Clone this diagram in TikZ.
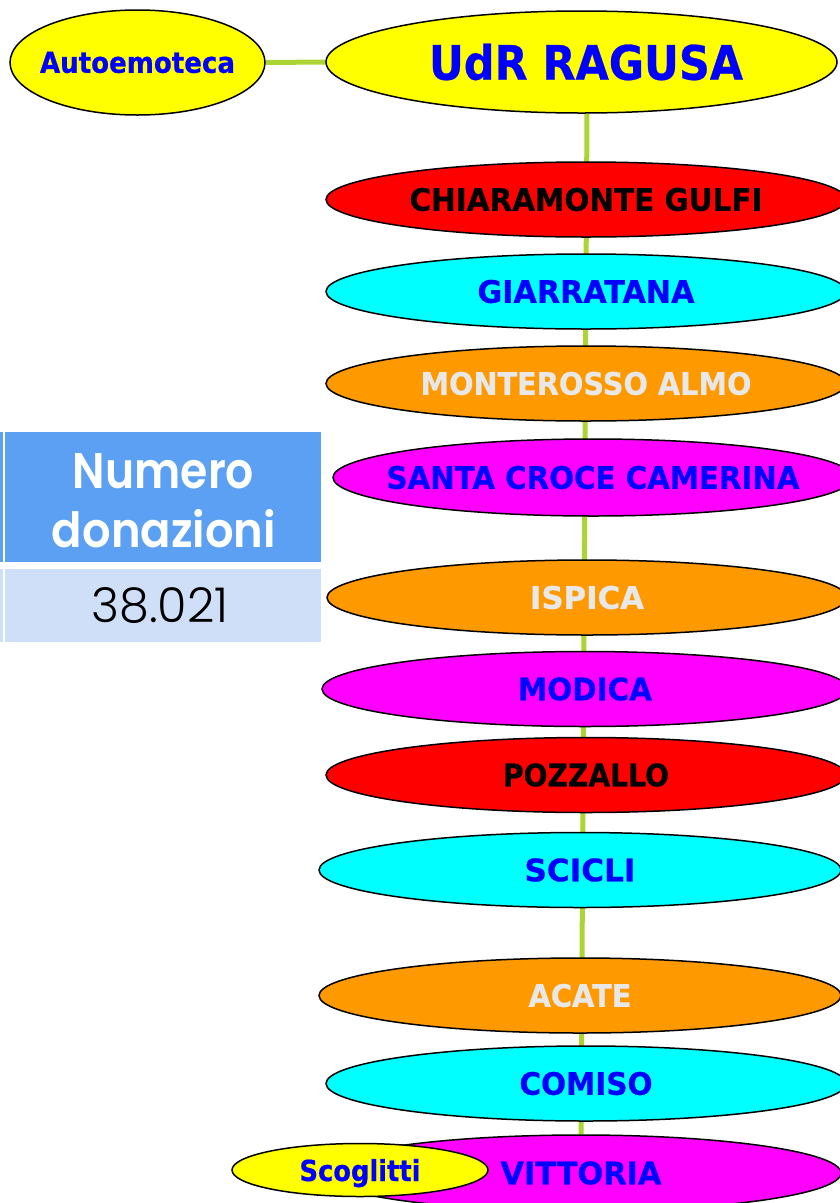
\documentclass[tikz,border=0pt]{standalone}
\usepackage{fontspec}
\setmainfont{DejaVu Sans}[BoldFeatures={FakeBold=0.6}]
\newfontfamily\popmed{Poppins SemiBold}
\newfontfamily\poplight{Poppins Light}
\usetikzlibrary{shapes.geometric,backgrounds}
\definecolor{linkgreen}{RGB}{172,212,52}
\definecolor{cyanfill}{RGB}{0,255,255}
\definecolor{orangefill}{RGB}{255,153,0}
\definecolor{magfill}{RGB}{255,0,255}
\definecolor{redfill}{RGB}{255,0,0}
\definecolor{yelfill}{RGB}{255,255,0}
\definecolor{bluetext}{RGB}{0,0,255}
\definecolor{greytext}{RGB}{232,232,232}
\definecolor{hdrblue}{RGB}{91,160,242}
\definecolor{cellblue}{RGB}{208,223,248}
\newcommand{\fitcaps}[3]{\makebox[0pt]{\resizebox{#1pt}{#2pt}{#3}}}
\tikzset{
  town/.style={ellipse, draw=black, line width=1.5pt, inner sep=0pt, font=\bfseries,
               minimum width=520pt, minimum height=75pt},
  link/.style={draw=linkgreen, line width=5pt},
  cell/.style={rectangle, inner sep=0pt, draw=none},
  celltext/.style={anchor=base, inner sep=0pt},
}
\begin{document}
\begin{tikzpicture}[x=1pt,y=-1pt]
\useasboundingbox (0,0) rectangle (839,1203);

% top nodes
\node[town, fill=yelfill, minimum width=255pt, minimum height=105pt, text=bluetext] (auto) at (137.5,62.5) {\fitcaps{195}{21}{Autoemoteca}};
\node[town, fill=yelfill, minimum width=511pt, minimum height=102pt, text=bluetext] (udr) at (581.5,62) {\makebox[0pt]{\hspace{9pt}\resizebox{314pt}{36pt}{UdR RAGUSA}}};

% towns
\node[town, fill=redfill, text=black] (chi) at (586,199.5) {\fitcaps{353}{23}{CHIARAMONTE GULFI}};
\node[town, fill=cyanfill, text=bluetext] (gia) at (586,291.5) {\fitcaps{217}{23}{GIARRATANA}};
\node[town, fill=orangefill, text=greytext] (mon) at (586,383.5) {\fitcaps{331}{23}{MONTEROSSO ALMO}};
\node[town, fill=magfill, text=bluetext, minimum height=77pt] (scc) at (593,477.5) {\fitcaps{413}{23}{SANTA CROCE CAMERINA}};
\node[town, fill=orangefill, text=greytext] (isp) at (587,597.5) {\fitcaps{114}{23}{ISPICA}};
\node[town, fill=magfill, text=bluetext, minimum width=526pt] (mod) at (585,689) {\fitcaps{134}{23}{MODICA}};
\node[town, fill=redfill, text=black] (poz) at (586,775) {\fitcaps{166}{23}{POZZALLO}};
\node[town, fill=cyanfill, text=bluetext, minimum width=522pt] (sci) at (580,870) {\fitcaps{111}{23}{SCICLI}};
\node[town, fill=orangefill, text=greytext, minimum width=522pt] (aca) at (580,995.5) {\fitcaps{103}{23}{ACATE}};
\node[town, fill=cyanfill, text=bluetext] (com) at (586,1083.5) {\fitcaps{133}{23}{COMISO}};
\node[town, fill=magfill, text=bluetext, minimum height=76pt] (vit) at (581,1173) {\fitcaps{161}{23}{VITTORIA}};
\node[town, fill=yelfill, text=bluetext, minimum width=256pt, minimum height=53pt] (sco) at (360,1170) {\fitcaps{121}{22}{\raisebox{0pt}[\height][0pt]{Scoglitti}}};

% connectors
\begin{scope}[on background layer]
  \draw[link] (auto.east) -- (udr.west);
  \draw[link] ([xshift=5.5pt]udr.south) -- (vit.north);
\end{scope}

% table
\fill[hdrblue] (0,432) rectangle (2.7,562);
\fill[cellblue] (0,569) rectangle (2.7,642);
\node[cell, fill=hdrblue, minimum width=316pt, minimum height=130pt] (hdr) at (163,497) {};
\node[cell, fill=cellblue, minimum width=316pt, minimum height=73pt] (val) at (163,605.5) {};
\node[celltext, text=white, font=\popmed] (numtxt) at (163.5,488) {\resizebox{181pt}{35pt}{Numero}};
\node[celltext, text=white, font=\popmed] (dontxt) at (164,547) {\resizebox{224pt}{38pt}{donazioni}};
\node[celltext, text=black, font=\poplight] (valtxt) at (160,622) {\resizebox{137pt}{35pt}{38.021}};
\end{tikzpicture}
\end{document}
